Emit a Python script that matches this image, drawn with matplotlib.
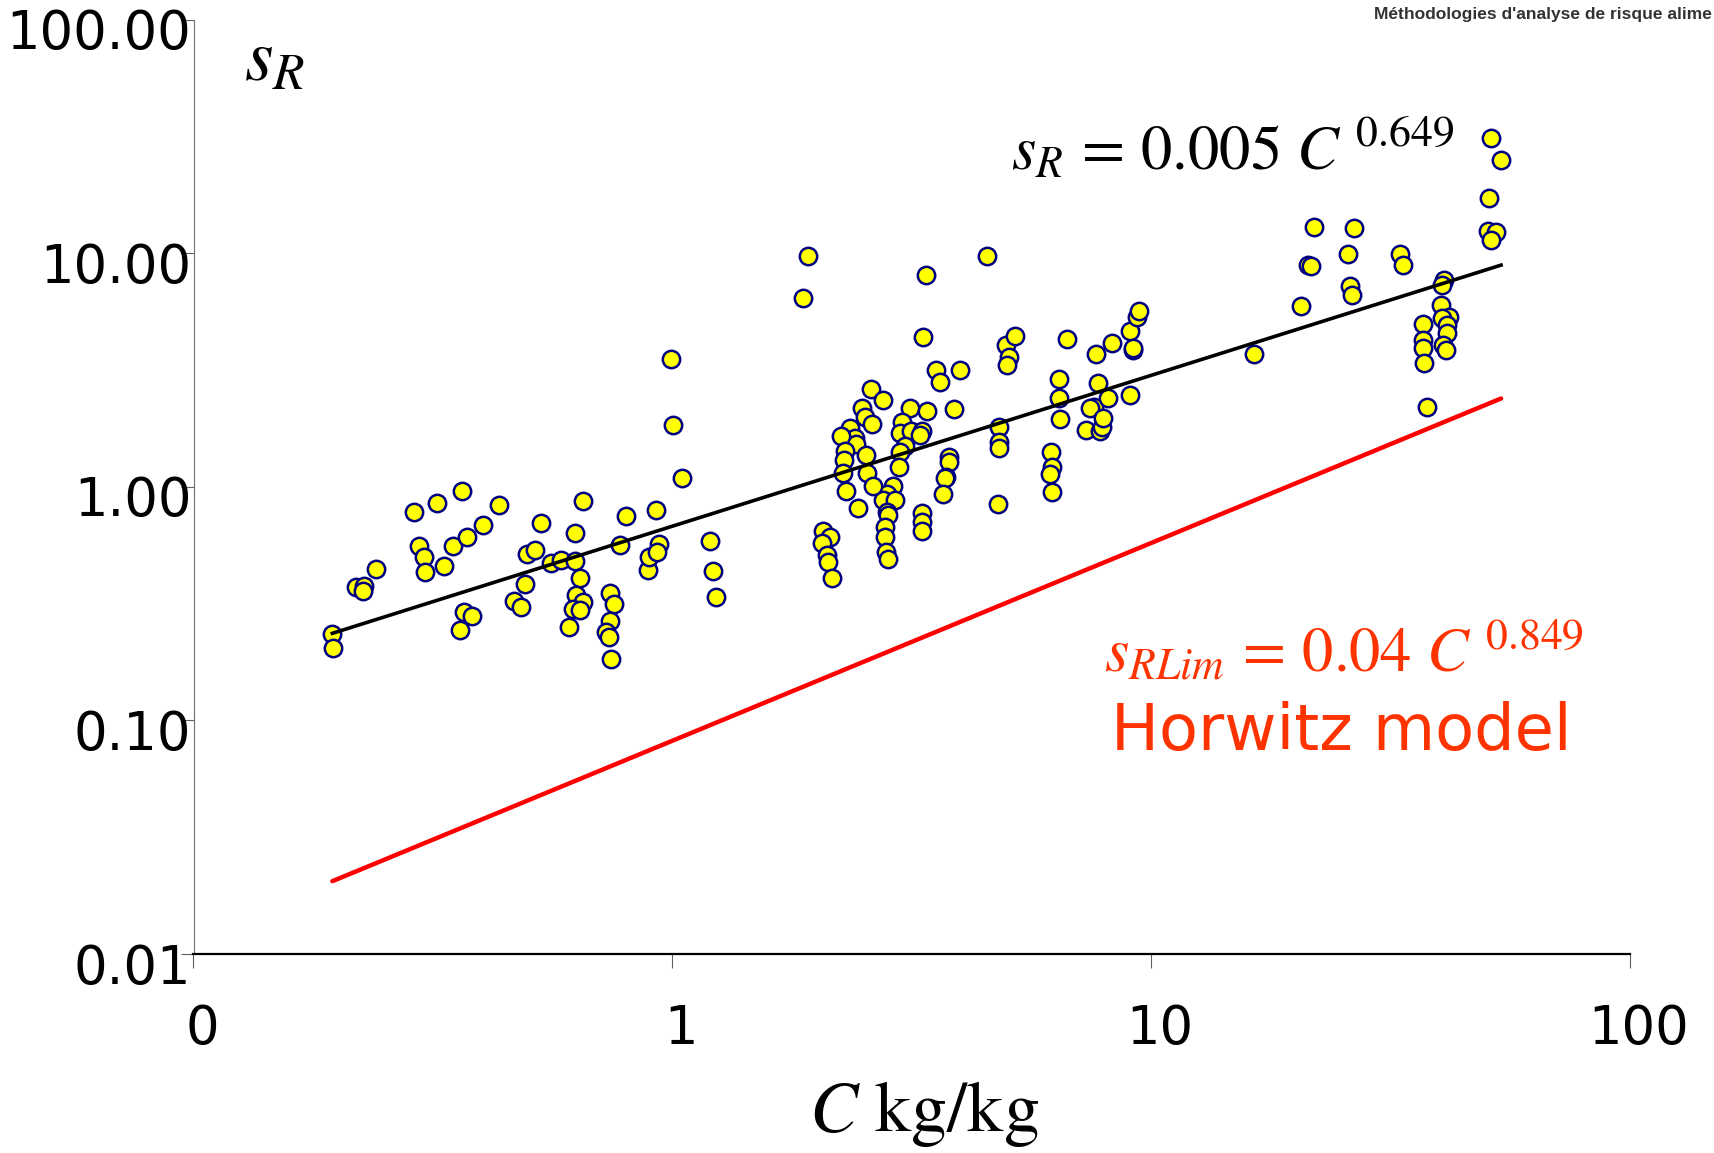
"""Reproducibility standard deviation vs concentration (log-log), with fit and Horwitz model."""
import matplotlib
matplotlib.use('Agg')
import matplotlib.pyplot as plt
import matplotlib.transforms as mtransforms

plt.rcParams['mathtext.fontset'] = 'stix'
plt.rcParams['font.family'] = ['DejaVu Sans']

# measured points: concentration C and reproducibility s_R
conc = [
    0.195, 0.196, 0.218, 0.227, 0.226, 0.241, 0.289, 0.322, 0.364, 0.435,
    0.296, 0.303, 0.305, 0.333, 0.349, 0.372, 0.402, 0.367, 0.382, 0.361,
    0.531, 0.650, 0.799, 0.926, 1.05, 0.498, 0.516, 0.493, 0.467, 0.483,
    0.557, 0.586, 0.626, 0.627, 0.642, 0.630, 0.652, 0.619, 0.642, 0.608,
    0.742, 0.755, 0.742, 0.726, 0.738, 0.744, 0.778, 0.891, 0.895, 0.940,
    0.930, 1.199, 1.215, 1.234, 1.005, 0.994,
    1.924, 1.875, 4.545, 3.388, 3.34, 3.555, 3.623, 3.984, 3.878, 3.78,
    3.78, 3.72, 2.597, 2.756, 2.491, 2.527, 2.617, 2.354, 2.412, 2.420,
    2.248, 2.295, 2.284, 2.534, 2.548, 3.132, 3.014, 2.989, 3.156, 3.327,
    3.058, 2.989, 2.979, 3.40, 2.269, 2.303, 2.447, 2.887, 2.805, 2.760,
    2.919, 2.813, 2.826, 2.782, 2.782, 2.795, 2.826, 3.319, 3.319, 3.319,
    3.712, 3.671, 4.806, 4.821, 4.806, 4.798, 2.068, 2.135, 2.052, 2.102,
    2.117, 2.159, 2.622, 3.29,
    6.18, 6.22, 6.15, 6.20, 6.43, 6.43, 6.45, 7.31, 7.82, 7.89,
    7.58, 7.76, 8.14, 7.46, 7.95, 9.04, 9.18, 4.977, 5.057, 4.993,
    5.196, 6.66, 7.68, 8.30, 9.04, 9.16, 9.34, 9.45, 16.41,
    51.3, 53.8, 50.7, 50.4, 52.5, 51.3, 21.9, 26.5, 21.3, 21.6,
    25.8, 33.1, 33.5, 20.6, 26.0, 26.3, 40.8, 40.5, 40.3, 41.8,
    40.5, 41.5, 41.5, 40.7, 41.2, 37.0, 36.9, 36.9, 37.2, 37.6,
]
sr = [
    0.235, 0.204, 0.374, 0.377, 0.359, 0.444, 0.784, 0.856, 0.961, 0.835,
    0.559, 0.501, 0.434, 0.460, 0.559, 0.612, 0.687, 0.291, 0.281, 0.243,
    0.703, 0.868, 0.753, 0.799, 1.089, 0.515, 0.535, 0.385, 0.323, 0.306,
    0.474, 0.487, 0.635, 0.482, 0.409, 0.345, 0.321, 0.300, 0.297, 0.251,
    0.351, 0.314, 0.267, 0.239, 0.227, 0.184, 0.561, 0.441, 0.503, 0.568,
    0.528, 0.587, 0.437, 0.339, 1.842, 3.541,
    9.77, 6.46, 9.74, 8.07, 4.40, 3.177, 2.822, 3.167, 2.156, 1.348,
    1.282, 1.107, 2.626, 2.364, 2.17, 1.986, 1.866, 1.782, 1.615, 1.532,
    1.657, 1.43, 1.303, 1.37, 1.144, 2.17, 1.902, 1.695, 1.742, 1.742,
    1.496, 1.416, 1.222, 2.114, 1.144, 0.964, 0.810, 1.013, 0.929, 0.879,
    0.879, 0.784, 0.758, 0.670, 0.612, 0.528, 0.492, 0.772, 0.710, 0.648,
    1.089, 0.929, 1.812, 1.562, 1.473, 0.843, 0.644, 0.612, 0.574, 0.511,
    0.479, 0.406, 1.013, 1.668,
    1.416, 1.222, 1.132, 0.949, 2.886, 2.395, 1.949, 1.753, 1.736, 1.812,
    2.207, 2.777, 2.411, 2.17, 1.967, 2.474, 3.857, 4.05, 3.612, 3.324,
    4.43, 4.28, 3.694, 4.145, 4.65, 3.92, 5.36, 5.67, 3.72,
    31.3, 25.2, 17.3, 12.45, 12.29, 11.4, 13.0, 12.79, 8.91, 8.85,
    9.90, 9.90, 8.91, 5.97, 7.27, 6.63, 7.69, 7.31, 6.00, 5.36,
    5.27, 4.93, 4.54, 4.05, 3.857, 4.98, 4.25, 3.92, 3.38, 2.207,
]

# fitted power law  s_R = 0.005 C^0.649  (end points of drawn segment)
fit_c = [0.195, 53.8]
fit_sr = [0.236, 8.9]
# Horwitz model  s_RLim = 0.04 C^0.849
horw_c = [0.195, 53.8]
horw_sr = [0.0205, 2.39]

xticks = [0.1, 1, 10, 100]
xticklabels = ['0', '1', '10', '100']
yticks = [0.01, 0.1, 1, 10, 100]
yticklabels = ['0.01', '0.10', '1.00', '10.00', '100.00']

W, H = 1714, 1153
fig = plt.figure(figsize=(W / 100, H / 100), dpi=100)
ax = fig.add_axes([193.5 / W, 1 - 954 / H, (1630 - 193.5) / W, (954 - 19.7) / H])
ax.set_xscale('log')
ax.set_yscale('log')
ax.set_xlim(0.1, 100)
ax.set_ylim(0.01, 100)

ax.plot(horw_c, horw_sr, color='#ff0000', lw=3.2, solid_capstyle='round', zorder=2)
ax.plot(conc, sr, 'o', ls='none', ms=12.5, mfc='#ffff00', mec='#000080', mew=1.8, zorder=3)
ax.plot(fit_c, fit_sr, color='black', lw=2.6, zorder=4)

ax.set_xticks(xticks)
ax.set_xticklabels(xticklabels)
ax.set_yticks(yticks)
ax.set_yticklabels(yticklabels)
ax.minorticks_off()

for s in ['top', 'right']:
    ax.spines[s].set_visible(False)
ax.spines['left'].set_color('#707070')
ax.spines['left'].set_linewidth(0.8)
ax.spines['bottom'].set_color('black')
ax.spines['bottom'].set_linewidth(1.6)

ax.tick_params(axis='x', direction='out', length=10, width=0.8, color='#606060',
               labelsize=38, pad=25)
ax.tick_params(axis='y', direction='out', length=9.5, width=0.8, color='#606060',
               labelsize=38, pad=-8)

# labels in the original sit a little lower / to the right of their ticks
dy = mtransforms.ScaledTranslation(0, -9 / 100, fig.dpi_scale_trans)
for lab in ax.get_yticklabels():
    lab.set_transform(lab.get_transform() + dy)
dx = mtransforms.ScaledTranslation(9 / 100, 0, fig.dpi_scale_trans)
for lab in ax.get_xticklabels():
    lab.set_transform(lab.get_transform() + dx)

# annotations
fig.text(244 / W, 1 - 80 / H, r'$s_R$', fontsize=53, va='baseline')
fig.text(1011 / W, 1 - 170 / H, r'$s_R\, =\, 0.005\ C^{\ 0.649}$', fontsize=45,
         va='baseline')
fig.text(1104 / W, 1 - 672 / H, r'$s_{RLim}\, =\, 0.04\ C^{\ 0.849}$', fontsize=45,
         va='baseline', color='#ff3300')
fig.text(1111 / W, 1 - 750 / H, 'Horwitz model', fontsize=46, va='baseline',
         color='#ff3300')
fig.text(924 / W, 1 - 1131 / H, r'$C\ \mathrm{kg/kg}$', fontsize=52, ha='center',
         va='baseline')
fig.text(1712 / W, 1 - 19 / H, "Méthodologies d'analyse de risque alime",
         fontsize=12.5, fontweight='bold', ha='right', va='baseline',
         color='#333333', family='Liberation Sans')

fig.savefig('out.png', dpi=100)
